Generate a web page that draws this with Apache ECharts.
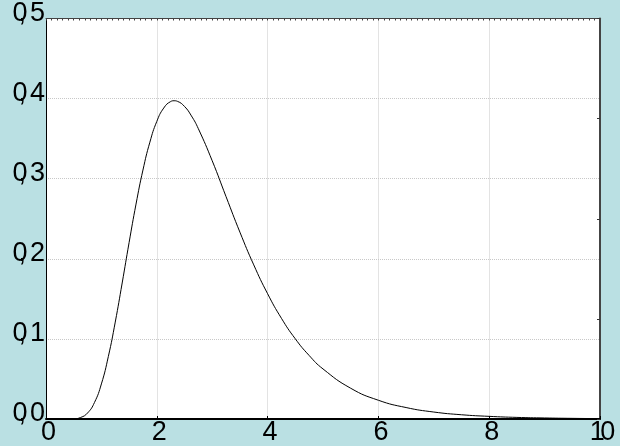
<!DOCTYPE html>
<html>
<head>
<meta charset="utf-8">
<script src="https://cdn.jsdelivr.net/npm/echarts@6/dist/echarts.min.js"></script>
<style>
  html, body { margin: 0; padding: 0; background: #bae0e3; }
  #chart { width: 620px; height: 446px; }
</style>
</head>
<body>
<div id="chart"></div>
<script>
// Density curve samples: x positions and density values
const xValues = [0, 0.25, 0.5, 0.625, 0.75, 0.875, 1.0, 1.125, 1.25, 1.375, 1.5, 1.625, 1.75, 1.875,
  2.0, 2.125, 2.25, 2.3125, 2.375, 2.5, 2.625, 2.75, 3.0, 3.25, 3.5, 3.75, 4.0, 4.25, 4.5, 4.75, 5.0,
  5.5, 6.0, 6.5, 7.0, 7.5, 8.0, 8.5, 9.0, 9.5, 10];
const densityValues = [0, 0, 0.0003, 0.0019, 0.0075, 0.0206, 0.0438, 0.0779, 0.121, 0.1698, 0.2203, 0.2683, 0.3108, 0.3456,
  0.3715, 0.3882, 0.3963, 0.3973, 0.3965, 0.3902, 0.3784, 0.3624, 0.3224, 0.2776, 0.2333, 0.1924, 0.1564, 0.1257, 0.1001, 0.0793, 0.0625,
  0.0384, 0.0234, 0.0143, 0.0087, 0.0053, 0.0033, 0.0020, 0.0013, 0.0008, 0.0005];

// Axis ranges and ticks
const xMin = 0, xMax = 10, xStep = 2;
const yMin = 0, yMax = 0.5, yStep = 0.1;

const curve = xValues.map((x, i) => [x, densityValues[i]]);

const labelFont = 'Liberation Sans, Arial, sans-serif';
const tok = extra => Object.assign({ fontFamily: labelFont, fontSize: 27, color: '#000', align: 'left' }, extra);

const chart = echarts.init(document.getElementById('chart'), null, { renderer: 'canvas' });
chart.setOption({
  backgroundColor: '#bae0e3',
  animation: false,
  grid: {
    left: 46, right: 20, top: 17, bottom: 26,
    show: true, backgroundColor: '#ffffff', borderWidth: 0
  },
  xAxis: [
    {
      type: 'value', position: 'bottom', min: xMin, max: xMax, interval: xStep,
      axisLine: { show: true, onZero: false, lineStyle: { color: '#000', width: 2 } },
      axisTick: { show: true, inside: true, length: 3, lineStyle: { color: '#000' } },
      splitLine: { show: true, lineStyle: { color: '#c8c8c8', type: 'dotted', width: 1 } },
      axisLabel: {
        margin: 0,
        padding: [0, 0, 0, 5],
        formatter: v => v === 10 ? '{o|1}{n|0}' : '{n|' + v + '}',
        rich: {
          o: tok({ width: 10.5 }),
          n: tok({})
        }
      }
    },
    {
      type: 'value', position: 'top', min: xMin, max: xMax, interval: 0.1,
      axisLine: { show: true, onZero: false, lineStyle: { color: '#444', width: 1 } },
      axisTick: { show: true, inside: true, length: 2, lineStyle: { color: '#444' } },
      splitLine: { show: false },
      axisLabel: { show: false }
    }
  ],
  yAxis: [
    {
      type: 'value', position: 'left', min: yMin, max: yMax, interval: yStep,
      axisLine: { show: true, onZero: false, lineStyle: { color: '#000', width: 1 } },
      axisTick: { show: false },
      splitLine: { show: true, lineStyle: { color: '#c8c8c8', type: 'dotted', width: 1 } },
      axisLabel: {
        margin: 1,
        verticalAlign: 'bottom',
        formatter: v => {
          const parts = v.toFixed(1).split('.');
          return '{z|' + parts[0] + '}{c|,}{n|' + parts[1] + '}';
        },
        rich: {
          z: tok({ width: 6, lineHeight: 10 }),
          c: tok({ width: 11.5, lineHeight: 10 }),
          n: tok({ lineHeight: 10 })
        }
      }
    },
    {
      type: 'value', position: 'right', min: 0, max: 4, interval: 1,
      axisLine: { show: true, onZero: false, lineStyle: { color: '#444', width: 2 } },
      axisTick: { show: true, inside: true, length: 3, lineStyle: { color: '#333' } },
      splitLine: { show: false },
      axisLabel: { show: false }
    }
  ],
  series: [
    {
      type: 'line', xAxisIndex: 0, yAxisIndex: 0,
      data: curve,
      smooth: 0.5,
      showSymbol: false, symbol: 'none',
      lineStyle: { color: '#000', width: 1 },
      z: 1
    }
  ]
});
</script>
</body>
</html>
